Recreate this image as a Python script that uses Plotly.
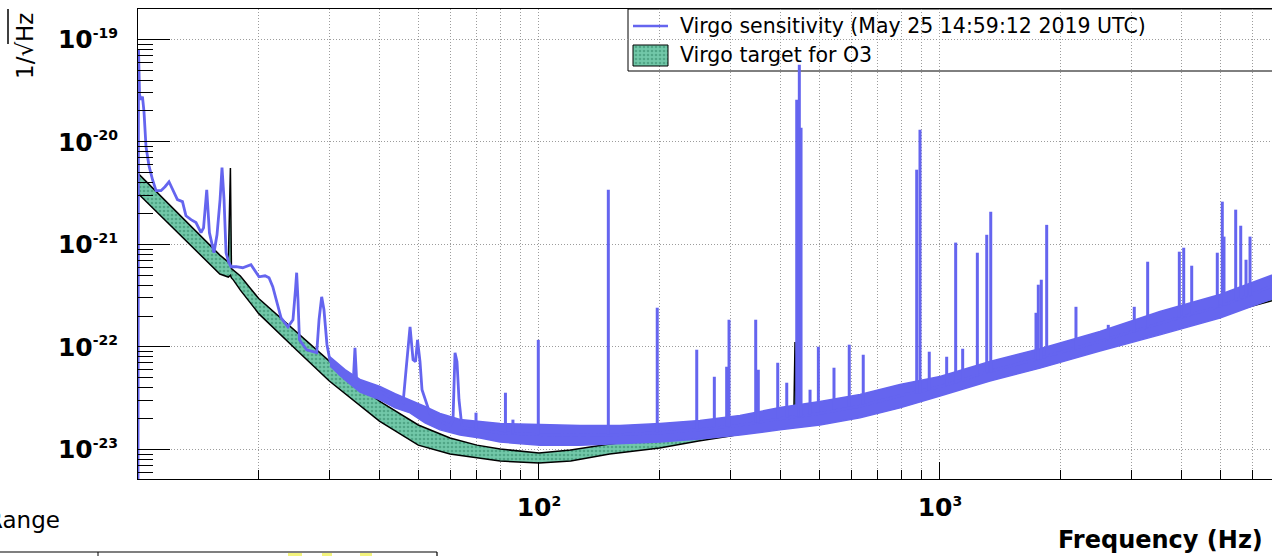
import plotly.graph_objects as go

# ---------------- data ----------------
# Virgo sensitivity: main trace (Hz, 1/sqrt(Hz))
sens_freq = [10.0, 10.03, 10.09, 10.17, 10.26, 10.35, 10.47, 10.65, 10.87, 11.09,
             11.41, 11.68, 11.95, 12.19, 12.54, 12.91, 13.17, 13.56, 13.95, 14.36,
             14.57, 14.84, 15.07, 15.47, 15.74, 16.02, 16.20, 16.39, 16.58, 16.82,
             17.06, 17.56, 18.24, 19.13, 20.03, 20.74, 21.22, 21.68, 22.31, 22.74,
             23.66, 24.35, 24.70, 24.87, 25.06, 25.27, 26.34, 27.91, 28.28, 28.71,
             29.09, 29.60, 30.11, 31.90, 33.79, 34.47, 34.76, 35.07, 37.19, 40.82,
             43.76, 45.82, 46.61, 47.69, 48.52, 49.22, 49.78, 50.50, 51.08, 53.48,
             56.64, 59.99, 61.04, 61.74, 62.45, 63.17, 64.27, 71.28, 79.94, 100.6,
             126.6, 159.2, 200.3, 252.0, 317.1, 399.1, 502.1, 631.9, 795.1, 1000.0,
             1332.0, 1776.0, 2506.0, 3536.0, 4991.0, 6729.0, 7000.0]
sens_asd = [4e-24, 7.92e-20, 2.88e-20, 2.58e-20, 2.76e-20, 1.97e-20, 8.97e-21, 5.85e-21, 4.27e-21, 3.34e-21,
            3.34e-21, 3.65e-21, 4.08e-21, 3.41e-21, 2.73e-21, 2.61e-21, 1.90e-21, 1.74e-21, 1.63e-21, 1.30e-21,
            1.45e-21, 3.41e-21, 1.30e-21, 8.29e-22, 1.24e-21, 2.73e-21, 5.60e-21, 2.73e-21, 8.29e-22, 6.77e-22,
            6.05e-22, 6.05e-22, 5.92e-22, 6.33e-22, 4.83e-22, 4.94e-22, 4.72e-22, 3.86e-22, 2.46e-22, 1.92e-22,
            1.57e-22, 1.84e-22, 3.61e-22, 5.29e-22, 2.88e-22, 1.17e-22, 9.38e-23, 8.77e-23, 1.84e-22, 3.08e-22,
            2.30e-22, 1.05e-22, 7.32e-23, 5.35e-23, 4.78e-23, 5.12e-23, 9.81e-23, 5.00e-23, 4.09e-23, 3.57e-23,
            2.98e-23, 2.85e-23, 5.98e-23, 1.57e-22, 7.49e-23, 7.16e-23, 1.17e-22, 7.16e-23, 3.82e-23, 2.23e-23,
            1.90e-23, 1.70e-23, 1.95e-23, 8.77e-23, 7.16e-23, 3.05e-23, 1.63e-23, 1.555e-23, 1.453e-23, 1.39e-23,
            1.374e-23, 1.39e-23, 1.453e-23, 1.555e-23, 1.72e-23, 1.99e-23, 2.25e-23, 2.64e-23, 3.34e-23, 4.09e-23,
            5.78e-23, 7.75e-23, 1.135e-22, 1.70e-22, 2.49e-22, 3.90e-22, 4.0e-22]

# spread (min / max envelope) of the noisy sensitivity above 30 Hz
band_freq = [30.11, 32.83, 35.78, 40.13, 43.76, 47.69, 51.96, 56.64, 63.54, 71.28,
             79.94, 100.6, 126.6, 159.2, 200.3, 252.0, 317.1, 399.1, 502.1, 631.9,
             795.1, 1000.0, 1332.0, 1776.0, 2506.0, 3536.0, 4991.0, 7000.0]
band_upper = [8.0e-23, 6.0e-23, 4.8e-23, 4.1e-23, 3.5e-23, 3.05e-23, 2.62e-23, 2.24e-23, 1.96e-23, 1.87e-23,
              1.79e-23, 1.75e-23, 1.71e-23, 1.71e-23, 1.79e-23, 1.91e-23, 2.14e-23, 2.56e-23, 2.93e-23, 3.43e-23,
              4.29e-23, 5.14e-23, 7.2e-23, 9.6e-23, 1.41e-22, 2.21e-22, 3.24e-22, 5.3e-22]
band_lower = [6.5e-23, 4.75e-23, 3.63e-23, 3.04e-23, 2.54e-23, 2.27e-23, 1.81e-23, 1.55e-23, 1.38e-23, 1.29e-23,
              1.18e-23, 1.10e-23, 1.10e-23, 1.13e-23, 1.18e-23, 1.26e-23, 1.38e-23, 1.55e-23, 1.73e-23, 2.03e-23,
              2.54e-23, 3.32e-23, 4.65e-23, 6.2e-23, 9.1e-23, 1.31e-22, 1.91e-22, 3.1e-22]

# narrow spectral lines: frequency, peak value, value at the line foot
line_freq = [69.65, 82.47, 86.10, 99.6, 148.9, 197.2, 247.4, 273.7, 293.8, 297.8,
             347.1, 352.3, 393.9, 414.8, 439.3, 445.9, 450.3, 474.2, 497.4, 544.1,
             593.9, 643.6, 874.9, 891.6, 940.3, 1039.2, 1094.3, 1139.2, 1239.3, 1308.0,
             1338.4, 1735.6, 1758.7, 1789.2, 1845.5, 2183.4, 2628.4, 3051.5, 3295.6, 3952.4,
             4053.5, 4243.9, 4915.4, 5058.6, 5108.2, 5463.6, 5623.5, 5797.2, 5931.9]
line_peak = [2.28e-23, 3.57e-23, 1.95e-23, 1.17e-22, 3.41e-21, 2.41e-22, 9.38e-23, 5.11e-23, 6.40e-23, 1.84e-22,
             1.84e-22, 5.98e-23, 7.00e-23, 4.47e-23, 2.58e-20, 5.66e-20, 1.37e-20, 3.82e-23, 1.003e-22, 6.26e-23,
             1.05e-22, 8.38e-23, 5.35e-21, 1.31e-20, 8.97e-23, 8.01e-23, 1.04e-21, 9.59e-23, 8.29e-22, 1.24e-21,
             2.08e-21, 2.15e-22, 4.04e-22, 4.52e-22, 1.55e-21, 2.46e-22, 1.64e-22, 2.46e-22, 6.77e-22, 8.48e-22,
             9.27e-22, 6.19e-22, 8.29e-22, 2.61e-21, 1.19e-21, 2.18e-21, 1.52e-21, 7.08e-22, 1.19e-21]
line_base = [1.555e-23, 1.453e-23, 1.42e-23, 1.39e-23, 1.39e-23, 1.45e-23, 1.555e-23, 1.626e-23, 1.66e-23, 1.66e-23,
             1.82e-23, 1.82e-23, 1.99e-23, 2.04e-23, 2.08e-23, 2.08e-23, 2.08e-23, 2.18e-23, 2.28e-23, 2.44e-23,
             2.61e-23, 2.73e-23, 3.49e-23, 3.49e-23, 3.73e-23, 4.18e-23, 4.37e-23, 4.57e-23, 5.11e-23, 5.60e-23,
             5.60e-23, 7.49e-23, 7.49e-23, 7.49e-23, 8.01e-23, 9.38e-23, 1.17e-22, 1.37e-22, 1.54e-22, 1.92e-22,
             1.97e-22, 2.06e-22, 2.41e-22, 2.52e-22, 2.52e-22, 2.82e-22, 2.95e-22, 3.08e-22, 3.15e-22]

# Virgo target for O3 (band)
target_freq = [10, 12, 14, 16, 16.8, 17.0, 17.1, 17.3, 18, 20, 25, 30, 40, 50, 60, 70, 80, 100,
               120, 150, 200, 250, 300, 400, 432, 435, 438, 500, 700, 1000, 2000, 4000, 7000]
target_upper = [4.93e-21, 2.42e-21, 1.32e-21, 7.86e-22, 6.72e-22, 5.55e-21, 5.8e-22, 5.61e-22, 4.91e-22,
                2.96e-22, 1.36e-22, 7.27e-23, 2.96e-23, 1.73e-23, 1.29e-23, 1.10e-23, 1.007e-23, 9.2e-24,
                9.84e-24, 1.127e-23, 1.29e-23, 1.44e-23, 1.614e-23, 1.977e-23, 2.05e-23, 1.114e-22, 2.06e-23,
                2.364e-23, 3.094e-23, 4.24e-23, 8.70e-23, 1.91e-22, 3.42e-22]
target_lower = [3.14e-21, 1.56e-21, 8.6e-22, 5.13e-22, 4.80e-22, 5.0e-22, 4.7e-22, 4.48e-22, 3.58e-22,
                2.11e-22, 9.1e-23, 4.64e-23, 1.89e-23, 1.10e-23, 9.0e-24, 8.22e-24, 7.69e-24, 7.35e-24,
                7.69e-24, 9.0e-24, 1.03e-23, 1.205e-23, 1.349e-23, 1.687e-23, 1.75e-23, 1.76e-23, 1.77e-23,
                2.02e-23, 2.645e-23, 3.62e-23, 7.43e-23, 1.633e-22, 2.93e-22]

# axis ticks
SUP = '<sup><span style="font-size:14px">{}</span></sup>'
x_tick_vals = [100, 1000]
x_tick_text = ["10" + SUP.format("2"), "10" + SUP.format("3")]
x_minor_vals = [20, 30, 40, 50, 60, 70, 80, 90, 200, 300, 400, 500, 600, 700, 800, 900,
                2000, 3000, 4000, 5000, 6000]
y_tick_vals = [1e-23, 1e-22, 1e-21, 1e-20, 1e-19]
y_tick_text = ["10" + SUP.format("-23"), "10" + SUP.format("-22"), "10" + SUP.format("-21"),
               "10" + SUP.format("-20"), "10" + SUP.format("-19")]
y_minor_vals = [6e-24, 7e-24, 8e-24, 9e-24,
                2e-23, 3e-23, 4e-23, 5e-23, 6e-23, 7e-23, 8e-23, 9e-23,
                2e-22, 3e-22, 4e-22, 5e-22, 6e-22, 7e-22, 8e-22, 9e-22,
                2e-21, 3e-21, 4e-21, 5e-21, 6e-21, 7e-21, 8e-21, 9e-21,
                2e-20, 3e-20, 4e-20, 5e-20, 6e-20, 7e-20, 8e-20, 9e-20]

legend_labels = ["Virgo sensitivity (May 25 14:59:12 2019 UTC)", "Virgo target for O3"]

# ---------------- styling ----------------
W, H = 1272, 556
L_M, T_M, B_M = 138, 9, 77
PW, PH = W - L_M, H - T_M - B_M
BLUE = "#6565ef"
GREEN_BG = "#72c8a9"
GREEN_FG = "#2f8466"
GRID = "#9c9c9c"
FONT = "DejaVu Sans"


def px(x):
    return (x - L_M) / PW


def py(y):
    return (T_M + PH - y) / PH


fig = go.Figure()

pattern = dict(shape=".", bgcolor=GREEN_BG, fgcolor=GREEN_FG, size=4, solidity=0.35)

# target band
fig.add_trace(go.Scatter(x=target_freq, y=target_lower, mode="lines",
                         line=dict(color="black", width=1.5), showlegend=False, hoverinfo="skip"))
fig.add_trace(go.Scatter(x=target_freq, y=target_upper, mode="lines", fill="tonexty",
                         fillcolor=GREEN_BG, fillpattern=pattern,
                         line=dict(color="black", width=1.5), showlegend=False, hoverinfo="skip"))

# sensitivity spread
fig.add_trace(go.Scatter(x=band_freq, y=band_lower, mode="lines",
                         line=dict(color=BLUE, width=1.5), showlegend=False, hoverinfo="skip"))
fig.add_trace(go.Scatter(x=band_freq, y=band_upper, mode="lines", fill="tonexty",
                         fillcolor=BLUE, line=dict(color=BLUE, width=1.5),
                         showlegend=False, hoverinfo="skip"))

# main sensitivity curve
fig.add_trace(go.Scatter(x=sens_freq, y=sens_asd, mode="lines",
                         line=dict(color=BLUE, width=2.8), name=legend_labels[0], showlegend=False))

# spectral lines
lx, ly = [], []
for f, pk, bs in zip(line_freq, line_peak, line_base):
    lx += [f, f, None]
    ly += [bs, pk, None]
fig.add_trace(go.Scatter(x=lx, y=ly, mode="lines", line=dict(color=BLUE, width=3),
                         showlegend=False, hoverinfo="skip", connectgaps=False))

# legend swatch for the target (pixel overlay axes)
fig.add_trace(go.Scatter(x=[633, 668, 668, 633, 633], y=[45, 45, 66, 66, 45],
                         xaxis="x2", yaxis="y2", mode="lines", fill="toself",
                         fillcolor=GREEN_BG, fillpattern=pattern,
                         line=dict(color="black", width=1), showlegend=False, hoverinfo="skip"))

shapes = [
    # legend frame
    dict(type="rect", xref="paper", yref="paper", x0=px(628), x1=px(1300), y0=py(71), y1=py(T_M),
         line=dict(color="black", width=1), fillcolor="white", layer="between"),
    # legend line sample
    dict(type="line", xref="paper", yref="paper", x0=px(633), x1=px(668), y0=py(26), y1=py(26),
         line=dict(color=BLUE, width=2.5), layer="above"),
    # overline of the square root in the y title
    dict(type="line", xref="paper", yref="paper", x0=px(8), x1=px(8), y0=py(9), y1=py(44),
         line=dict(color="black", width=1.5), layer="above"),
    # frame of the pad below (cut by the picture)
    dict(type="line", xref="paper", yref="paper", x0=px(-5), x1=px(437), y0=py(552), y1=py(552),
         line=dict(color="black", width=1.2), layer="above"),
    dict(type="line", xref="paper", yref="paper", x0=px(437), x1=px(437), y0=py(552), y1=py(562),
         line=dict(color="black", width=1.2), layer="above"),
    dict(type="line", xref="paper", yref="paper", x0=px(98), x1=px(98), y0=py(552), y1=py(562),
         line=dict(color="black", width=1), layer="above"),
]
for x0, x1 in [(288, 302), (322, 332), (360, 372)]:
    shapes.append(dict(type="rect", xref="paper", yref="paper", x0=px(x0), x1=px(x1),
                       y0=py(562), y1=py(553), line=dict(width=0), fillcolor="#f4f47c", layer="above"))

annotations = [
    dict(text=legend_labels[0], xref="paper", yref="paper", x=px(678), y=py(26),
         xanchor="left", yanchor="middle", showarrow=False,
         font=dict(family=FONT, size=20.5, color="black")),
    dict(text=legend_labels[1], xref="paper", yref="paper", x=px(678), y=py(55),
         xanchor="left", yanchor="middle", showarrow=False,
         font=dict(family=FONT, size=20.5, color="black")),
    dict(text="1/√Hz", xref="paper", yref="paper", x=px(25), y=py(46), textangle=-90,
         xanchor="center", yanchor="middle", showarrow=False,
         font=dict(family=FONT, size=23, color="black")),
    dict(text="Frequency (Hz)", xref="paper", yref="paper", x=px(1265), y=py(540),
         xanchor="right", yanchor="middle", showarrow=False,
         font=dict(family=FONT, size=24, color="black", weight="bold")),
    dict(text="Range", xref="paper", yref="paper", x=px(-15), y=py(520),
         xanchor="left", yanchor="middle", showarrow=False,
         font=dict(family=FONT, size=23, color="black")),
]

fig.update_layout(
    width=W, height=H,
    margin=dict(l=L_M, r=0, t=T_M, b=B_M),
    paper_bgcolor="white", plot_bgcolor="white",
    showlegend=False,
    shapes=shapes, annotations=annotations,
    xaxis=dict(type="log", range=[1.0, 3.828], tickmode="array", tickvals=x_tick_vals,
               ticktext=x_tick_text, ticks="inside", ticklen=17, tickwidth=1, tickcolor="black",
               showline=True, linecolor="black", linewidth=1, mirror=True,
               showgrid=True, gridcolor=GRID, griddash="1px,2px", gridwidth=1,
               tickfont=dict(family=FONT, size=25, color="black", weight="bold"),
               ticklabelstandoff=6,
               minor=dict(tickmode="array", tickvals=x_minor_vals, ticks="inside", ticklen=9,
                          tickcolor="black", tickwidth=1, showgrid=True, gridcolor=GRID,
                          griddash="1px,2px", gridwidth=1),
               zeroline=False),
    yaxis=dict(type="log", range=[-23.289, -18.704], tickmode="array", tickvals=y_tick_vals,
               ticktext=y_tick_text, ticks="inside", ticklen=32, tickwidth=1, tickcolor="black",
               showline=True, linecolor="black", linewidth=1, mirror=False,
               showgrid=True, gridcolor=GRID, griddash="1px,2px", gridwidth=1,
               tickfont=dict(family=FONT, size=25, color="black", weight="bold"),
               ticklabelstandoff=14,
               minor=dict(tickmode="array", tickvals=y_minor_vals, ticks="inside", ticklen=15,
                          tickcolor="black", tickwidth=1, showgrid=False),
               zeroline=False),
    xaxis2=dict(overlaying="x", range=[L_M, W], visible=False, fixedrange=True),
    yaxis2=dict(overlaying="y", range=[T_M + PH, T_M], visible=False, fixedrange=True),
)

fig.write_html("out.html", config={"displayModeBar": False},
               post_script="document.body.style.margin='0px';document.body.style.overflow='hidden';")
